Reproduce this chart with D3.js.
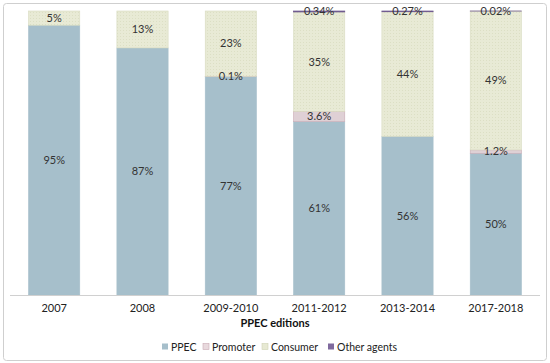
<!DOCTYPE html>
<html>
<head>
<meta charset="utf-8">
<script src="https://cdn.jsdelivr.net/npm/d3@7"></script>
<style>
  body { margin: 0; background: #fff; }
  svg { font-family: Lato, "Open Sans", "Liberation Sans", sans-serif; }
</style>
</head>
<body>
<svg id="chart" width="550" height="363"></svg>
<script>
// data (percent shares per edition)
const editions = ["2007", "2008", "2009-2010", "2011-2012", "2013-2014", "2017-2018"]
const keys = ["PPEC", "Promoter", "Consumer", "Other agents"]
const ppec = [95, 87, 77, 61, 56, 50]
const promoter = [0, 0, 0.1, 3.6, 0, 1.2]
const consumer = [5, 13, 23, 35, 44, 49]
const other = [0, 0, 0, 0.34, 0.27, 0.02]
const labels = {
  "PPEC": ["95%", "87%", "77%", "61%", "56%", "50%"],
  "Promoter": ["", "", "0.1%", "3.6%", "", "1.2%"],
  "Consumer": ["5%", "13%", "23%", "35%", "44%", "49%"],
  "Other agents": ["", "", "", "0.34%", "0.27%", "0.02%"]
}

const colors = { "PPEC": "#a6bfcb", "Promoter": "#dfd0d5", "Consumer": "url(#dots)", "Other agents": "#6f5a8f" }
const legendColors = { "PPEC": "#a6bfcb", "Promoter": "#e8d9dd", "Consumer": "#e7e9d3", "Other agents": "#7f6a9e" }

const rows = editions.map((e, i) => ({
  edition: e, i: i,
  "PPEC": ppec[i], "Promoter": promoter[i], "Consumer": consumer[i], "Other agents": other[i]
}))

const svg = d3.select("#chart")
const W = 550, H = 363

// outer frame
svg.append("rect")
  .attr("x", 3.5).attr("y", 3.5)
  .attr("width", W - 7).attr("height", H - 6)
  .attr("rx", 3)
  .attr("fill", "#fff")
  .attr("stroke", "#cfcfcf")

// dotted fill for consumer
const defs = svg.append("defs")
const pat = defs.append("pattern")
  .attr("id", "dots").attr("patternUnits", "userSpaceOnUse")
  .attr("width", 3).attr("height", 3)
pat.append("rect").attr("width", 3).attr("height", 3).attr("fill", "#e8ead5")
pat.append("rect").attr("width", 1).attr("height", 1).attr("fill", "#dcdfc4")

const x = d3.scaleBand().domain(editions).range([10, 540]).paddingInner(0.42).paddingOuter(0.21)
const y = d3.scaleLinear().domain([0, 1]).range([295, 11])

const stacked = d3.stack().keys(keys).offset(d3.stackOffsetExpand)(rows)

const strokes = { "PPEC": "#a6bfcb", "Promoter": "#c9aab4", "Consumer": "#d8dbc0", "Other agents": "#6f5a8f" }

const layers = svg.append("g").selectAll("g")
  .data(stacked)
  .enter().append("g")
  .attr("fill", d => colors[d.key])

layers.selectAll("rect")
  .data(d => d.map(p => Object.assign(p, { key: d.key })))
  .enter().append("rect")
  .attr("x", d => x(d.data.edition))
  .attr("width", x.bandwidth())
  .attr("y", d => y(d[1]))
  .attr("height", d => Math.max(0, y(d[0]) - y(d[1])))
  .attr("stroke", d => (d[1] - d[0]) > 0 ? strokes[d.key] : "none")
  .attr("stroke-width", d => d.key === "Other agents" ? 0.7 : 0.6)

// axis baseline
svg.append("line")
  .attr("x1", 10).attr("x2", 540)
  .attr("y1", 295.5).attr("y2", 295.5)
  .attr("stroke", "#d0d0d0")

// data labels
const lbl = svg.append("g").attr("font-size", 11).attr("fill", "#333").attr("text-anchor", "middle")
stacked.forEach(layer => {
  layer.forEach((p, i) => {
    const t = labels[layer.key][i]
    if (!t) return
    const cy = y((p[0] + p[1]) / 2)
    lbl.append("text")
      .attr("x", x(p.data.edition) + x.bandwidth() / 2)
      .attr("y", cy)
      .attr("dy", "0.35em")
      .text(t)
  })
})

// x tick labels
svg.append("g").attr("font-size", 11).attr("fill", "#222").attr("text-anchor", "middle")
  .selectAll("text").data(editions).enter().append("text")
  .attr("x", d => x(d) + x.bandwidth() / 2)
  .attr("y", 312)
  .text(d => d)

// axis title
svg.append("text")
  .attr("x", 275).attr("y", 327)
  .attr("text-anchor", "middle")
  .attr("font-size", 11).attr("font-weight", "bold").attr("fill", "#111")
  .text("PPEC editions")

// legend
const legendX = [162, 203, 262, 328]
const legend = svg.append("g").attr("font-size", 10.5).attr("fill", "#222")
  .selectAll("g").data(keys).enter().append("g")
  .attr("transform", (d, i) => "translate(" + legendX[i] + ",347)")
legend.append("rect")
  .attr("x", 0).attr("y", -3.5).attr("width", 6).attr("height", 6)
  .attr("fill", d => legendColors[d])
  .attr("stroke", d => d === "Promoter" ? "#c9aab4" : (d === "Consumer" ? "#cfd2b5" : "none"))
  .attr("stroke-width", 0.6)
legend.append("text")
  .attr("x", 9).attr("y", 0).attr("dy", "0.35em")
  .text(d => d)
</script>
</body>
</html>
